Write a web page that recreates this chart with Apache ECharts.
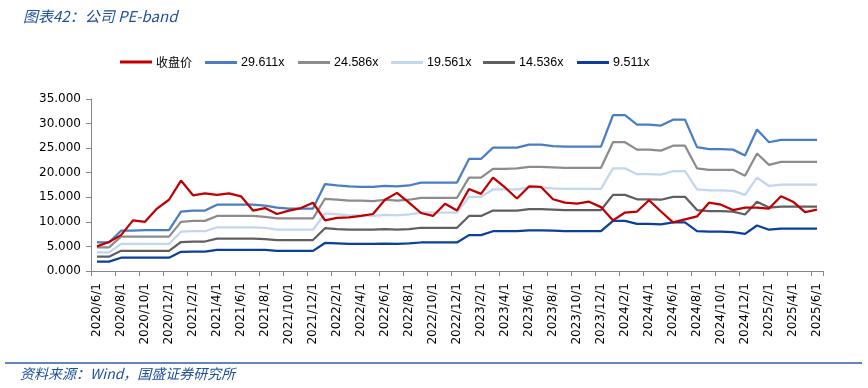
<!DOCTYPE html>
<html><head><meta charset="utf-8">
<script src="https://cdn.jsdelivr.net/npm/echarts@6/dist/echarts.min.js"></script>
<style>html,body{margin:0;padding:0;background:#fff}#c{width:868px;height:388px}</style>
</head><body><div id="c"></div>
<script>
const categories = [
"2020/6/1","2020/7/1","2020/8/1","2020/9/1","2020/10/1","2020/11/1","2020/12/1",
"2021/1/1","2021/2/1","2021/3/1","2021/4/1","2021/5/1","2021/6/1","2021/7/1","2021/8/1","2021/9/1","2021/10/1","2021/11/1","2021/12/1",
"2022/1/1","2022/2/1","2022/3/1","2022/4/1","2022/5/1","2022/6/1","2022/7/1","2022/8/1","2022/9/1","2022/10/1","2022/11/1","2022/12/1",
"2023/1/1","2023/2/1","2023/3/1","2023/4/1","2023/5/1","2023/6/1","2023/7/1","2023/8/1","2023/9/1","2023/10/1","2023/11/1","2023/12/1",
"2024/1/1","2024/2/1","2024/3/1","2024/4/1","2024/5/1","2024/6/1","2024/7/1","2024/8/1","2024/9/1","2024/10/1","2024/11/1","2024/12/1",
"2025/1/1","2025/2/1","2025/3/1","2025/4/1","2025/5/1","2025/6/1"];

const closePrice = [5.0,5.9,7.3,10.3,10.0,12.7,14.5,18.4,15.4,15.8,15.5,15.8,15.2,12.3,12.8,11.6,12.3,12.8,13.9,
10.3,10.8,10.9,11.2,11.6,14.5,15.9,13.9,11.8,11.2,13.7,12.3,
16.7,15.7,19.0,17.0,14.75,17.2,17.1,14.6,13.9,13.7,14.1,13.0,
10.3,11.9,12.1,14.4,12.1,9.9,10.5,11.1,13.9,13.5,12.4,12.9,
12.9,12.7,15.2,14.1,12.0,12.5];

const pe29611 = [5.8,5.8,8.2,8.2,8.3,8.3,8.3,12.1,12.3,12.3,13.5,13.5,13.5,13.5,13.3,12.9,12.7,12.7,12.7,
17.7,17.4,17.2,17.1,17.1,17.3,17.2,17.4,18.0,18.0,18.0,18.0,
22.8,22.8,25.1,25.1,25.1,25.7,25.7,25.4,25.3,25.3,25.3,25.3,
31.7,31.7,29.8,29.8,29.6,30.8,30.8,25.2,24.8,24.8,24.7,23.5,
28.8,26.2,26.7,26.7,26.7,26.7];

const pe24586 = [4.8,4.8,7.0,7.0,7.0,7.0,7.0,10.0,10.2,10.2,11.2,11.2,11.2,11.2,11.0,10.7,10.7,10.7,10.7,
14.7,14.5,14.3,14.3,14.2,14.5,14.3,14.5,14.9,14.9,14.9,14.9,
19.0,19.0,20.8,20.8,20.9,21.2,21.2,21.1,21.0,21.0,21.0,21.0,
26.2,26.2,24.7,24.7,24.5,25.5,25.5,20.9,20.6,20.6,20.6,19.4,
23.9,21.6,22.2,22.2,22.2,22.2];

const pe19561 = [3.8,3.8,5.5,5.5,5.5,5.5,5.5,8.0,8.1,8.1,8.9,8.9,8.9,8.9,8.8,8.4,8.4,8.4,8.4,
11.7,11.5,11.3,11.3,11.2,11.4,11.3,11.5,11.9,11.9,11.9,11.9,
15.1,15.1,16.6,16.6,16.6,17.0,17.0,16.8,16.7,16.7,16.7,16.7,
20.9,20.9,19.7,19.7,19.6,20.3,20.3,16.6,16.4,16.4,16.3,15.5,
19.0,17.3,17.6,17.6,17.6,17.6];

const pe14536 = [2.9,2.9,4.1,4.1,4.1,4.1,4.1,5.9,6.0,6.0,6.6,6.6,6.6,6.6,6.5,6.3,6.3,6.3,6.3,
8.7,8.5,8.4,8.4,8.4,8.5,8.4,8.5,8.8,8.8,8.8,8.8,
11.2,11.2,12.3,12.3,12.3,12.6,12.6,12.5,12.4,12.4,12.4,12.4,
15.5,15.5,14.6,14.6,14.5,15.1,15.1,12.4,12.2,12.2,12.1,11.5,
14.1,12.9,13.1,13.1,13.1,13.1];

const pe9511 = [1.9,1.9,2.7,2.7,2.7,2.7,2.7,3.9,3.95,3.95,4.3,4.3,4.3,4.3,4.3,4.1,4.1,4.1,4.1,
5.7,5.6,5.5,5.5,5.5,5.55,5.5,5.6,5.8,5.8,5.8,5.8,
7.3,7.3,8.1,8.1,8.1,8.25,8.25,8.2,8.1,8.1,8.1,8.1,
10.2,10.2,9.6,9.6,9.5,9.9,9.9,8.1,8.0,8.0,7.9,7.55,
9.25,8.4,8.6,8.6,8.6,8.6];

const seriesNames = ["收盘价","29.611x","24.586x","19.561x","14.536x","9.511x"];
const seriesData = [closePrice, pe29611, pe24586, pe19561, pe14536, pe9511];
const colors = ["#C00000","#4A7EC4","#8C8C8C","#C2D6EE","#606060","#0A3F9C"];
const legendLeft = [120, 205, 298, 391, 483, 577];

const legendFont = '"Liberation Sans",sans-serif';
const legends = seriesNames.map((n, i) => ({
  data: [n], left: legendLeft[i], top: 56, padding: 0,
  icon: 'rect', itemWidth: 32, itemHeight: 3, itemGap: 0,
  textStyle: i === 0
    ? {fontFamily: '"Noto Sans CJK SC",sans-serif', fontSize: 12, color: '#000', padding: [0,0,0,-1]}
    : {fontFamily: legendFont, fontSize: 12.5, color: '#000', padding: [0,0,0,-1]}
}));

const chart = echarts.init(document.getElementById('c'), null, {renderer: 'canvas'});
chart.setOption({
  animation: false,
  backgroundColor: '#fff',
  title: {
    text: '图表42：公司 PE-band', left: 18, top: 4,
    textStyle: {fontFamily: '"Noto Sans CJK SC",sans-serif', fontStyle: 'italic', fontWeight: 'normal', fontSize: 15, color: '#1D4F9C'}
  },
  legend: legends,
  grid: {left: 91, right: 45, top: 99, bottom: 117, containLabel: false},
  xAxis: {
    type: 'category', data: categories, boundaryGap: true,
    axisLine: {lineStyle: {color: '#868686', width: 1}},
    axisTick: {show: true, interval: 1, alignWithLabel: false, length: 5, lineStyle: {color: '#868686'}},
    axisLabel: {interval: 1, rotate: 90, margin: 12, color: '#000', fontFamily: '"DejaVu Sans",sans-serif', fontSize: 12}
  },
  yAxis: {
    type: 'value', min: 0, max: 35, interval: 5,
    axisLine: {show: true, lineStyle: {color: '#868686', width: 1}},
    axisTick: {show: true, length: 5, lineStyle: {color: '#868686'}},
    splitLine: {show: false},
    axisLabel: {margin: 10, color: '#000', fontFamily: '"DejaVu Sans",sans-serif', fontSize: 12,
      formatter: v => v.toFixed(3)}
  },
  series: seriesNames.map((n, i) => ({
    name: n, type: 'line', data: seriesData[i], symbol: 'none', smooth: false,
    lineStyle: {color: colors[i], width: 2.25}, itemStyle: {color: colors[i]},
    z: i === 0 ? 3 : 2
  })),
  graphic: [
    {type: 'line', shape: {x1: 5, y1: 363, x2: 862, y2: 363}, style: {stroke: '#2E5DA8', lineWidth: 1.5}},
    {type: 'text', left: 20, top: 367, style: {text: '资料来源：Wind，国盛证券研究所', fill: '#1D4F9C',
      font: 'italic 14px "Noto Sans CJK SC", sans-serif'}}
  ]
});
</script></body></html>
